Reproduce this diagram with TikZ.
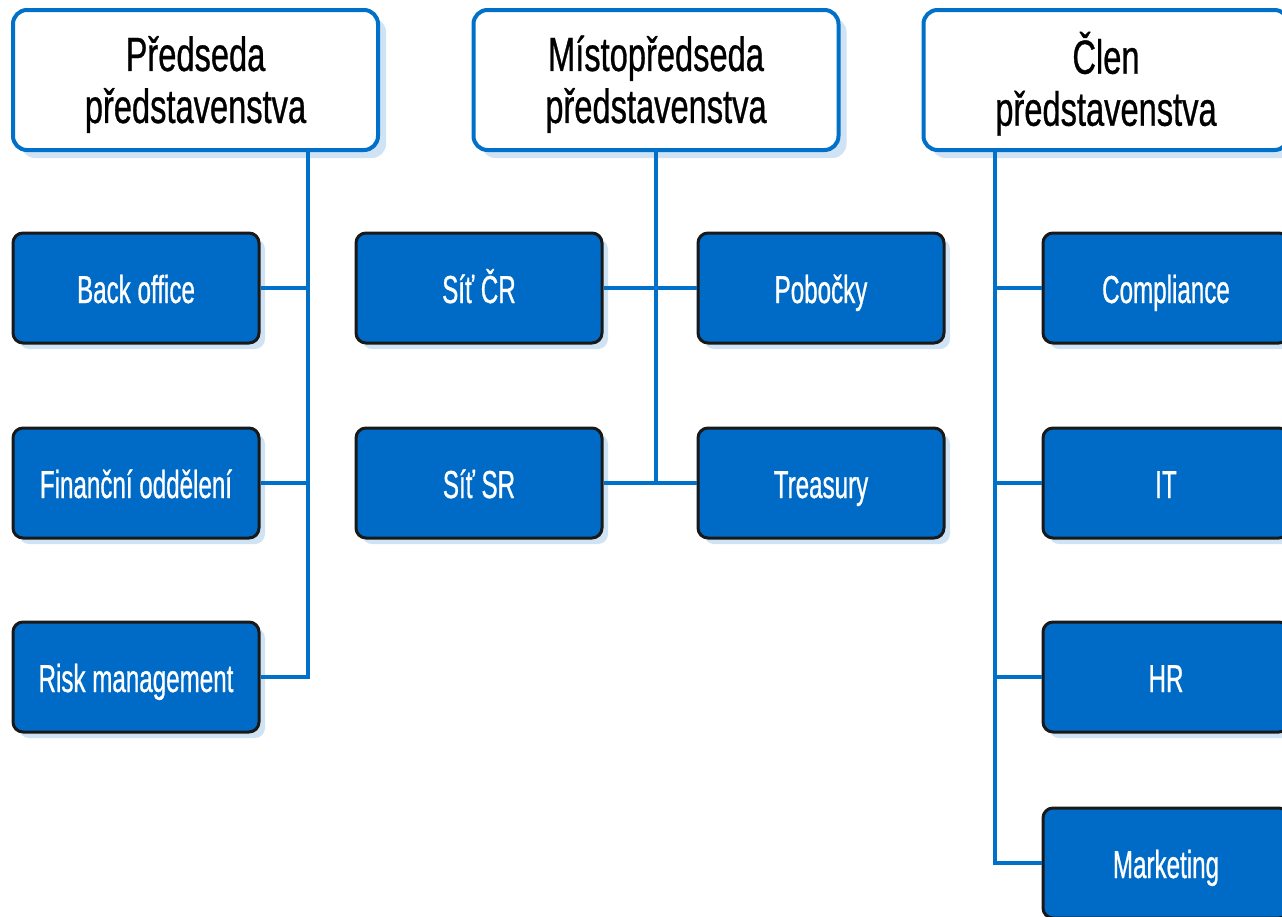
\documentclass[tikz,border=0pt]{standalone}
\usepackage{fontspec}
\setmainfont{Liberation Sans}[FakeStretch=0.62, FakeBold=0.7]
\newfontfamily\headfont{Liberation Sans}[FakeStretch=0.68, FakeBold=0.6]
\usetikzlibrary{shadows}

\definecolor{linkblue}{RGB}{0,112,200}
\definecolor{boxblue}{RGB}{0,107,198}
\definecolor{shadeblue}{RGB}{207,227,245}

\newcommand{\headtext}[2]{\raisebox{-9.5pt}[0pt][0pt]{\begin{tabular}{@{}c@{}}#1\\#2\end{tabular}}}

\begin{document}
\begin{tikzpicture}[x=0.5pt, y=-0.5pt,
    head/.style={draw=linkblue, line width=2pt, fill=white, rounded corners=7pt,
      minimum width=182.5pt, minimum height=70pt, align=center,
      font=\headfont\fontsize{24}{26}\selectfont,
      drop shadow={shadow xshift=4pt, shadow yshift=-4pt, fill=shadeblue, opacity=1}},
    dept/.style={draw=black!90, line width=1.5pt, fill=boxblue, text=white, rounded corners=5pt,
      minimum width=123pt, minimum height=55pt, text height=15pt, text depth=0pt,
      font=\fontsize{19.5}{22}\selectfont,
      drop shadow={shadow xshift=3pt, shadow yshift=-3pt, fill=shadeblue, opacity=1}},
    link/.style={draw=linkblue, line width=2pt}]
    \useasboundingbox (0,0) rectangle (1282,917);

    \node[head] (predseda) at (195.5, 80) {\headtext{Předseda}{představenstva}};
    \node[head] (misto)    at (656, 80)   {\headtext{Místopředseda}{představenstva}};
    \node[head] (clen)     at (1106, 80)  {\headtext{Člen}{představenstva}};

    \node[dept] (back)      at (136, 288)  {Back office};
    \node[dept] (finance)   at (136, 483)  {Finanční oddělení};
    \node[dept] (risk)      at (136, 677)  {Risk management};

    \node[dept] (sitcr)     at (479, 288)  {Síť ČR};
    \node[dept] (pobocky)   at (821, 288)  {Pobočky};
    \node[dept] (sitsr)     at (479, 483)  {Síť SR};
    \node[dept] (treasury)  at (821, 483)  {Treasury};

    \node[dept] (compliance) at (1166, 288) {Compliance};
    \node[dept] (it)         at (1166, 483) {IT};
    \node[dept] (hr)         at (1166, 677) {HR};
    \node[dept] (marketing)  at (1166, 863) {Marketing};

    % chairman
    \coordinate (predbus) at (308, 677);
    \draw[link] (predseda.south -| predbus) |- (risk.east);
    \draw[link] (back.east) -- (back.east -| predbus);
    \draw[link] (finance.east) -- (finance.east -| predbus);

    % vice-chairman
    \draw[link] (misto.south) -- (misto.south |- treasury.west);
    \draw[link] (sitcr.east) -- (pobocky.west);
    \draw[link] (sitsr.east) -- (treasury.west);

    % member
    \coordinate (clenbus) at (995, 863);
    \draw[link] (clen.south -| clenbus) |- (marketing.west);
    \draw[link] (compliance.west) -- (compliance.west -| clenbus);
    \draw[link] (it.west) -- (it.west -| clenbus);
    \draw[link] (hr.west) -- (hr.west -| clenbus);
\end{tikzpicture}
\end{document}
